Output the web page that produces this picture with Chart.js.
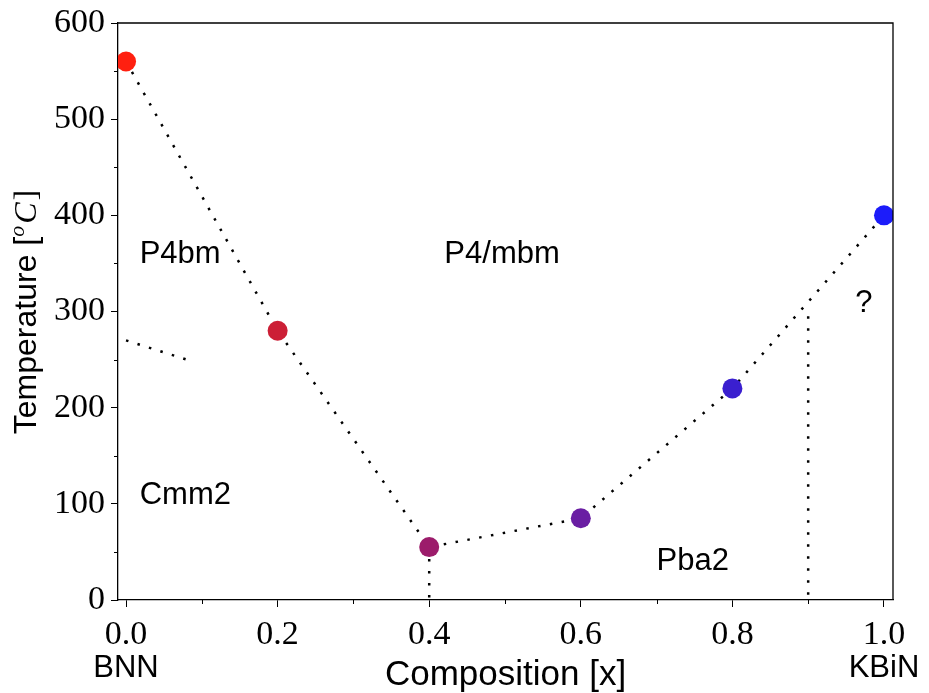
<!DOCTYPE html>
<html>
<head>
<meta charset="utf-8">
<title>BNN - KBiN phase diagram</title>
<script src="https://cdn.jsdelivr.net/npm/chart.js@4/dist/chart.umd.min.js"></script>
<style>
  html, body { margin: 0; padding: 0; background: #fff; }
  #wrap { width: 929px; height: 693px; }
</style>
</head>
<body>
<div id="wrap"><canvas id="phaseChart" width="929" height="693"></canvas></div>
<script>
'use strict';

// measured transition points
const composition = [0, 0.2, 0.4, 0.6, 0.8, 1.0];
const temperature = [560, 280, 55, 85, 220, 400];
const markerColors = ['#ff2010', '#cc1f36', '#9c1c6b', '#6a1ea3', '#3a1fcf', '#1c1cfa'];

// extra phase boundaries (dotted)
const lowBoundaryX = [0, 0.08];
const lowBoundaryT = [270, 250];
const midBoundaryX = [0.4, 0.4];
const midBoundaryT = [55, 0];
const rightBoundaryX = [0.9, 0.9];
const rightBoundaryT = [295, 0];

// phase names, placed at (x, T) of their left baseline
const phaseNames = ['P4bm', 'P4/mbm', 'Cmm2', 'Pba2', '?'];
const phaseX = [0.018, 0.42, 0.018, 0.70, 0.962];
const phaseT = [350, 350, 100, 31, 300];

// ticks
const xTicks = [0, 0.2, 0.4, 0.6, 0.8, 1.0];
const xMinor = [0.1, 0.3, 0.5, 0.7, 0.9];
const yTicks = [0, 100, 200, 300, 400, 500, 600];
const yMinor = [50, 150, 250, 350, 450, 550];

const endLabels = ['BNN', 'KBiN'];
const endLabelX = [0, 1.0];

const SANS = '"Liberation Sans", Arial, Helvetica, sans-serif';
const SERIF = '"Liberation Serif", "Times New Roman", serif';

function pairs(xs, ys) {
  return xs.map((x, i) => ({ x: x, y: ys[i] }));
}

const dotted = {
  showLine: true,
  pointRadius: 0,
  borderColor: '#000',
  borderWidth: 2.5,
  borderDash: [2.5, 9.5],
  borderCapStyle: 'butt',
  fill: false,
  order: 2
};

// draws the frame, minor ticks and all the free text
const decorations = {
  id: 'decorations',
  afterDraw(chart) {
    const ctx = chart.ctx;
    const area = chart.chartArea;
    const xs = chart.scales.x;
    const ys = chart.scales.y;
    ctx.save();
    // frame (top + right)
    ctx.strokeStyle = '#000';
    ctx.lineWidth = 1.3;
    ctx.beginPath();
    ctx.moveTo(area.left, area.top);
    ctx.lineTo(area.right, area.top);
    ctx.lineTo(area.right, area.bottom);
    ctx.stroke();
    // minor ticks
    ctx.lineWidth = 1;
    ctx.beginPath();
    xMinor.forEach(v => {
      const px = Math.round(xs.getPixelForValue(v)) + 0.5;
      ctx.moveTo(px, area.bottom);
      ctx.lineTo(px, area.bottom + 4);
    });
    yMinor.forEach(v => {
      const py = Math.round(ys.getPixelForValue(v)) + 0.5;
      ctx.moveTo(area.left, py);
      ctx.lineTo(area.left - 4, py);
    });
    ctx.stroke();

    // phase names
    ctx.fillStyle = '#000';
    ctx.font = '31px ' + SANS;
    ctx.textAlign = 'left';
    ctx.textBaseline = 'alphabetic';
    phaseNames.forEach((name, i) => {
      ctx.fillText(name, xs.getPixelForValue(phaseX[i]), ys.getPixelForValue(phaseT[i]));
    });

    // end member names
    ctx.textAlign = 'center';
    endLabels.forEach((name, i) => {
      ctx.fillText(name, xs.getPixelForValue(endLabelX[i]), 677);
    });

    // x axis title
    ctx.font = '35px ' + SANS;
    ctx.fillText('Composition [x]', (area.left + area.right) / 2, 685);

    // y axis title: Temperature [^oC]
    ctx.translate(36, 312);
    ctx.rotate(-Math.PI / 2);
    const part1 = 'Temperature [';
    ctx.font = '32px ' + SANS;
    const w1 = ctx.measureText(part1).width;
    ctx.font = 'italic 22px ' + SERIF;
    const w2 = ctx.measureText('o').width + 2;
    ctx.font = 'italic 32px ' + SERIF;
    const w3 = ctx.measureText('C').width + 2;
    ctx.font = '32px ' + SERIF;
    const w4 = ctx.measureText(']').width;
    let x = -(w1 + w2 + w3 + w4) / 2;
    ctx.textAlign = 'left';
    ctx.font = '32px ' + SANS;
    ctx.fillText(part1, x, 0);
    x += w1;
    ctx.font = 'italic 22px ' + SERIF;
    ctx.fillText('o', x, -12);
    x += w2;
    ctx.font = 'italic 32px ' + SERIF;
    ctx.fillText('C', x, 0);
    x += w3;
    ctx.font = '32px ' + SERIF;
    ctx.fillText(']', x, 0);
    ctx.restore();
  }
};

const whiteBg = {
  id: 'whiteBg',
  beforeDraw(chart) {
    const ctx = chart.ctx;
    ctx.save();
    ctx.fillStyle = '#fff';
    ctx.fillRect(0, 0, chart.width, chart.height);
    ctx.restore();
  }
};

new Chart(document.getElementById('phaseChart'), {
  type: 'scatter',
  data: {
    datasets: [
      {
        label: 'transitions',
        data: pairs(composition, temperature),
        pointRadius: 10,
        pointHoverRadius: 10,
        pointBackgroundColor: markerColors,
        pointBorderWidth: 0,
        showLine: false,
        clip: 0,
        order: 1
      },
      Object.assign({ label: 'boundary', data: pairs(composition, temperature) }, dotted),
      Object.assign({ label: 'low', data: pairs(lowBoundaryX, lowBoundaryT) }, dotted),
      Object.assign({ label: 'mid', data: pairs(midBoundaryX, midBoundaryT) }, dotted),
      Object.assign({ label: 'right', data: pairs(rightBoundaryX, rightBoundaryT) }, dotted)
    ]
  },
  options: {
    responsive: false,
    devicePixelRatio: 1,
    animation: false,
    layout: { padding: { top: 23, right: 36, left: 0, bottom: 0 } },
    plugins: {
      legend: { display: false },
      tooltip: { enabled: false }
    },
    scales: {
      x: {
        type: 'linear',
        min: -0.0106,
        max: 1.0119,
        afterBuildTicks(scale) { scale.ticks = xTicks.map(v => ({ value: v })); },
        afterFit(scale) {
          scale.height = 93;
          scale.paddingLeft = 0;
          scale.paddingRight = 0;
        },
        grid: { drawOnChartArea: false, drawTicks: true, tickLength: 7, tickColor: '#000', tickWidth: 1 },
        border: { color: '#000', width: 1.3 },
        ticks: {
          color: '#000',
          padding: 8,
          maxRotation: 0,
          font: { family: SERIF, size: 34 },
          callback: v => Number(v).toFixed(1)
        }
      },
      y: {
        type: 'linear',
        min: 0,
        max: 600,
        afterBuildTicks(scale) { scale.ticks = yTicks.map(v => ({ value: v })); },
        afterFit(scale) {
          scale.width = 118;
          scale.paddingTop = 0;
          scale.paddingBottom = 0;
        },
        grid: { drawOnChartArea: false, drawTicks: true, tickLength: 7, tickColor: '#000', tickWidth: 1 },
        border: { color: '#000', width: 1.3 },
        ticks: {
          color: '#000',
          padding: 6,
          font: { family: SERIF, size: 34 },
          callback: v => String(v)
        }
      }
    }
  },
  plugins: [whiteBg, decorations]
});
</script>
</body>
</html>
